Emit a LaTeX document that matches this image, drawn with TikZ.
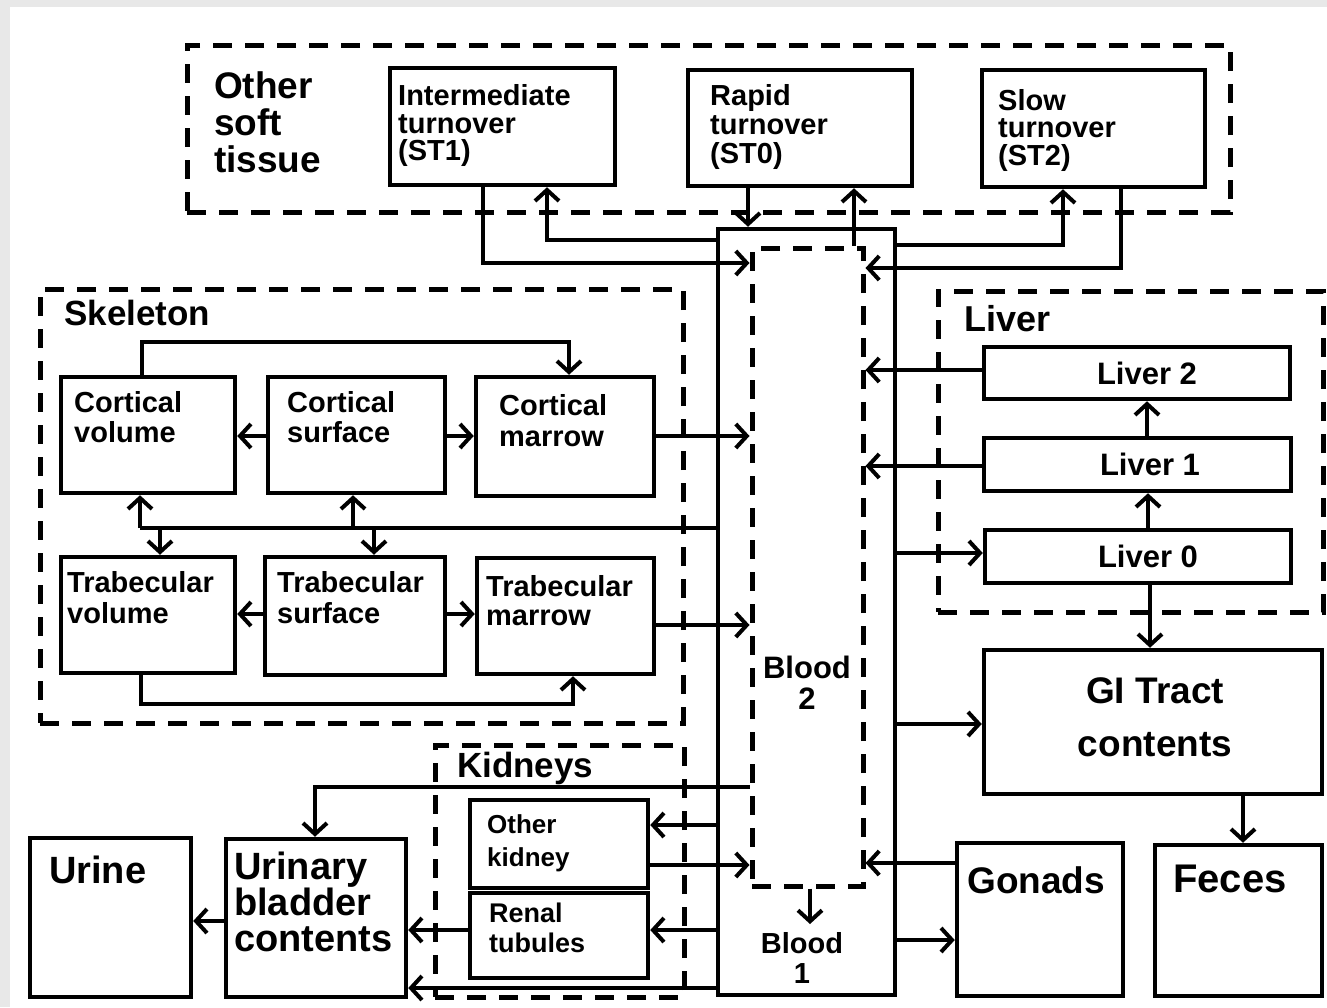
\documentclass[tikz,border=0pt]{standalone}
\usepackage{fontspec}
\setmainfont{Liberation Sans}
\usetikzlibrary{arrows.meta,fit}
\newcommand\fsz[2]{\fontsize{#1}{#2}\selectfont\bfseries}
\definecolor{margingray}{HTML}{E8E8E8}
\begin{document}
\begin{tikzpicture}[x=1pt,y=-1pt,
  box/.style={draw, line width=4.5pt, inner sep=0pt},
  region/.style={draw, line width=5pt, dash pattern=on 19pt off 13pt, inner sep=0pt},
  conn/.style={line width=4pt, -{Straight Barb[length=11pt,width=24pt,line width=4pt]}},
  plain/.style={line width=4pt},
  lbl/.style={inner sep=0pt, anchor=north west, align=left},
  ctr/.style={inner sep=0pt, anchor=center, align=center},
]
\useasboundingbox (0,0) rectangle (1327,1007);
\fill[margingray] (0,0) rectangle (1327,1007);
\fill[white] (10,7) rectangle (1327,1007);

% ---------- regions ----------
\node[region, fit={(187,45) (1230,212)}] (softreg) {};
\node[region, fit={(40,289) (683,723)}] (skelreg) {};
\node[region, fit={(938,291) (1323,612)}] (livreg) {};
\node[region, fit={(435,745) (684,997)}] (kidreg) {};

% ---------- boxes ----------
\node[box, fit={(390,68) (615,185)}] (st1) {};
\node[box, fit={(688,70) (912,186)}] (st0) {};
\node[box, fit={(982,70) (1205,187)}] (st2) {};

\node[box, fit={(718,229) (895,995)}] (bo) {};
\node[region, fit={(752,248) (863,886)}] (b2) {};

\node[box, fit={(61,377) (235,493)}] (cv) {};
\node[box, fit={(268,377) (445,493)}] (cs) {};
\node[box, fit={(476,377) (654,496)}] (cm) {};
\node[box, fit={(61,557) (235,673)}] (tv) {};
\node[box, fit={(265,557) (445,675)}] (ts) {};
\node[box, fit={(477,558) (654,674)}] (tm) {};

\node[box, fit={(984,347) (1290,399)}] (l2) {};
\node[box, fit={(984,438) (1291,491)}] (l1) {};
\node[box, fit={(985,530) (1291,583)}] (l0) {};

\node[box, fit={(984,650) (1322,794)}] (gi) {};
\node[box, fit={(957,843) (1123,996)}] (gon) {};
\node[box, fit={(1155,845) (1322,996)}] (fec) {};

\node[box, fit={(470,800) (648,888)}] (ok) {};
\node[box, fit={(470,893) (648,978)}] (rt) {};
\node[box, fit={(226,839) (406,997)}] (ub) {};
\node[box, fit={(30,838) (191,997)}] (ur) {};

% ---------- texts ----------
\node[lbl, font=\fsz{37}{37}] (osttxt) at (214,71) {Other\\soft\\tissue};
\node[lbl, font=\fsz{29}{27.5}] (st1txt) at (398,84.5) {Intermediate\\turnover\\(ST1)};
\node[lbl, font=\fsz{29}{29}] (st0txt) at (710,84.5) {Rapid\\turnover\\(ST0)};
\node[lbl, font=\fsz{29}{27.5}] (st2txt) at (998,89) {Slow\\turnover\\(ST2)};

\node[lbl, font=\fsz{35}{35}] (skeltxt) at (64,300) {Skeleton};
\node[lbl, font=\fsz{29}{30}] (cvtxt) at (74,391.5) {Cortical\\volume};
\node[lbl, font=\fsz{29}{30}] (cstxt) at (287,391.5) {Cortical\\surface};
\node[lbl, font=\fsz{29}{31}] (cmtxt) at (499,394.5) {Cortical\\marrow};
\node[lbl, font=\fsz{29}{31}] (tvtxt) at (67,571.5) {Trabecular\\volume};
\node[lbl, font=\fsz{29}{31}] (tstxt) at (277,571.5) {Trabecular\\surface};
\node[lbl, font=\fsz{29}{29}] (tmtxt) at (486,575) {Trabecular\\marrow};

\node[lbl, font=\fsz{36}{36}] (livtxt) at (964,305) {Liver};
\node[ctr, font=\fsz{31}{31}] (l2txt) at (l2.center -| 1147,0) {Liver 2};
\node[ctr, font=\fsz{31}{31}] (l1txt) at (l1.center -| 1150,0) {Liver 1};
\node[ctr, font=\fsz{31}{31}] (l0txt) at (l0.center -| 1148,0) {Liver 0};
\node[ctr, font=\fsz{37}{53}] (gitxt) at (1155,717) {GI Tract\\contents};
\node[lbl, font=\fsz{37}{37}] (gontxt) at (967,866.5) {Gonads};
\node[lbl, font=\fsz{40}{40}] (fectxt) at (1173,865) {Feces};

\node[ctr, font=\fsz{31}{31}] (b2txt) at (807,683) {Blood\\2};
\node[ctr, font=\fsz{29}{30}] (b1txt) at (802,958) {Blood\\1};

\node[lbl, font=\fsz{35}{35}] (kidtxt) at (457,752) {Kidneys};
\node[lbl, font=\fsz{26}{33}] (oktxt) at (487,814) {Other\\kidney};
\node[lbl, font=\fsz{27}{30}] (rttxt) at (489,903) {Renal\\tubules};
\node[lbl, font=\fsz{38}{36}] (ubtxt) at (234,852) {Urinary\\bladder\\contents};
\node[lbl, font=\fsz{38}{38}] (urtxt) at (49,856) {Urine};

% ---------- soft tissue connectors ----------
\draw[conn] (st1.south -| 483,0) |- (b2.west |- 0,263);
\draw[conn] (bo.west |- 0,240) -| (st1.south -| 547,0);
\draw[conn] (st0.south -| 748,0) -- (bo.north -| 748,0);
\draw[conn] (b2.north -| 854,0) -- (st0.south -| 854,0);
\draw[conn] (bo.east |- 0,245) -| (st2.south -| 1063,0);
\draw[conn] (st2.south -| 1121,0) |- (b2.east |- 0,268);

% ---------- liver / GI / gonads ----------
\draw[conn] (l2.west |- 0,370) -- (b2.east |- 0,370);
\draw[conn] (l1.west |- 0,466) -- (b2.east |- 0,466);
\draw[conn] (bo.east |- 0,553) -- (l0.west |- 0,553);
\draw[conn] (l0.north -| 1148,0) -- (l1.south -| 1148,0);
\draw[conn] (l1.north -| 1147,0) -- (l2.south -| 1147,0);
\draw[conn] (l0.south -| 1150,0) -- (gi.north -| 1150,0);
\draw[conn] (bo.east |- 0,724) -- (gi.west |- 0,724);
\draw[conn] (gi.south -| 1243,0) -- (fec.north -| 1243,0);
\draw[conn] (gon.west |- 0,863) -- (b2.east |- 0,863);
\draw[conn] (bo.east |- 0,940) -- (gon.west |- 0,940);

% ---------- skeleton ----------
\draw[conn] (cv.north -| 142,0) |- (569,342) -- (cm.north -| 569,0);
\draw[conn] (cs.west |- 0,436) -- (cv.east |- 0,436);
\draw[conn] (cs.east |- 0,436) -- (cm.west |- 0,436);
\draw[conn] (cm.east |- 0,436) -- (b2.west |- 0,436);
\coordinate (bus) at (140,528);
\draw[plain] (bo.west |- bus) -- (bus);
\draw[conn] (bus) -- (cv.south -| bus);
\draw[conn] (bus -| 160,0) -- (tv.north -| 160,0);
\draw[conn] (bus -| 353,0) -- (cs.south -| 353,0);
\draw[conn] (bus -| 374,0) -- (ts.north -| 374,0);
\draw[conn] (ts.west |- 0,614) -- (tv.east |- 0,614);
\draw[conn] (ts.east |- 0,614) -- (tm.west |- 0,614);
\draw[conn] (tm.east |- 0,625) -- (b2.west |- 0,625);
\draw[conn] (tv.south -| 141,0) |- (573,704) -- (tm.south -| 573,0);

% ---------- kidneys / bladder ----------
\draw[conn] (b2.west |- 0,787) -| (ub.north -| 315,0);
\draw[conn] (bo.west |- 0,825) -- (ok.east |- 0,825);
\draw[conn] (ok.east |- 0,865) -- (b2.west |- 0,865);
\draw[conn] (bo.west |- 0,930) -- (rt.east |- 0,930);
\draw[conn] (rt.west |- 0,930) -- (ub.east |- 0,930);
\draw[conn] (bo.west |- 0,988) -- (ub.east |- 0,988);
\draw[conn] (ub.west |- 0,921) -- (ur.east |- 0,921);
\coordinate (b1in) at (810,924);
\draw[conn] (b2.south -| b1in) -- (b1in);
\end{tikzpicture}
\end{document}
